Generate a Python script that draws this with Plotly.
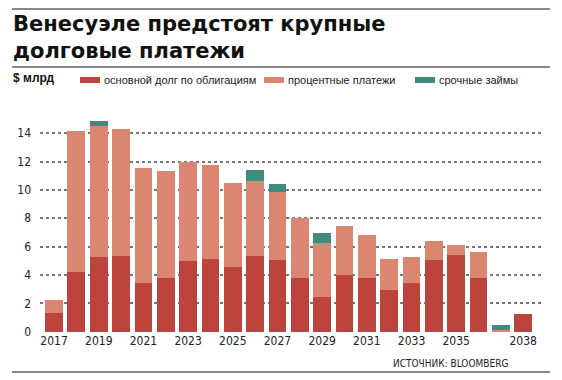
import plotly.graph_objects as go

years = list(range(2017, 2039))
principal = [1.30, 4.19, 5.24, 5.36, 3.45, 3.81, 4.96, 5.14, 4.58, 5.31, 5.05,
             3.76, 2.42, 3.97, 3.81, 2.96, 3.45, 5.05, 5.40, 3.81, 0.00, 1.23]
interest = [0.93, 9.93, 9.28, 8.92, 8.09, 7.54, 6.98, 6.59, 5.92, 5.29, 4.82,
            4.27, 3.85, 3.46, 3.00, 2.16, 1.79, 1.36, 0.73, 1.81, 0.15, 0.00]
loans = [0.00, 0.00, 0.35, 0.00, 0.00, 0.00, 0.00, 0.00, 0.00, 0.80, 0.54,
         0.00, 0.69, 0.00, 0.00, 0.00, 0.00, 0.00, 0.00, 0.00, 0.30, 0.00]
series_names = ["основной долг по облигациям", "процентные платежи", "срочные займы"]
colors = ["#BC443C", "#DB8670", "#428A7E"]
x_tickvals = [2017, 2019, 2021, 2023, 2025, 2027, 2029, 2031, 2033, 2035, 2038]
y_tickvals = [0, 2, 4, 6, 8, 10, 12, 14]

# page body has an 8px default margin; figure is sized to fit the window
OFF = 8
W, H = 562 - OFF, 380 - OFF
def px(x):
    return (x - OFF) / W
def py(y):
    return 1 - (y - OFF) / H

fig = go.Figure()
for vals, name, c in zip([principal, interest, loans], series_names, colors):
    fig.add_trace(go.Bar(x=years, y=vals, name=name, marker_color=c,
                         marker_line_width=0, showlegend=False))

narrow = "Liberation Sans Narrow, DejaVu Sans Condensed, Arial Narrow, sans-serif"

fig.update_layout(
    width=W, height=H, barmode="stack", bargap=0.2,
    margin=dict(l=0, r=0, t=0, b=0),
    plot_bgcolor="white", paper_bgcolor="white",
    xaxis=dict(domain=[px(40), px(542)], range=[2016.37, 2038.84],
               tickvals=x_tickvals, ticktext=[str(v) for v in x_tickvals],
               showgrid=False, zeroline=False, showline=False, automargin=False,
               tickfont=dict(family=narrow, size=12, color="#222")),
    yaxis=dict(domain=[py(332), py(119)], range=[-0.02, 15],
               tickvals=y_tickvals, showgrid=True, gridcolor="#777",
               griddash="dot", gridwidth=1.5, zeroline=False, showline=False,
               automargin=False, ticklabelstandoff=8,
               tickfont=dict(family=narrow, size=12, color="#222")),
)

shapes = []
for y in [9, 67, 372]:
    shapes.append(dict(type="line", xref="paper", yref="paper",
                       x0=px(12), x1=px(550), y0=py(y), y1=py(y),
                       line=dict(color="#888", width=2)))
# legend swatches
sw = [(80, 100), (264, 284), (415, 435)]
for (a, b), c in zip(sw, colors):
    shapes.append(dict(type="rect", xref="paper", yref="paper",
                       x0=px(a), x1=px(b), y0=py(83), y1=py(77),
                       fillcolor=c, line=dict(width=0)))
fig.update_layout(shapes=shapes)

ann = []
title_font = dict(family="DejaVu Sans", size=21, color="#111", weight="bold")
ann.append(dict(text="Венесуэле предстоят крупные", x=px(11), y=py(24),
                xanchor="left", yanchor="middle"))
ann.append(dict(text="долговые платежи", x=px(11), y=py(51),
                xanchor="left", yanchor="middle"))
for a in ann:
    a.update(xref="paper", yref="paper", showarrow=False, font=title_font)
ann.append(dict(text="$ млрд", x=px(11), y=py(78), xref="paper", yref="paper",
                xanchor="left", yanchor="middle", showarrow=False,
                font=dict(family="Liberation Sans", size=12, color="#111", weight="bold")))
for (a, b), name in zip(sw, series_names):
    ann.append(dict(text=name, x=px(b + 2), y=py(80), xref="paper", yref="paper",
                    xanchor="left", yanchor="middle", showarrow=False,
                    font=dict(family="Liberation Sans", size=11, color="#222")))
ann.append(dict(text="ИСТОЧНИК: BLOOMBERG", x=px(510), y=py(363), xref="paper",
                yref="paper", xanchor="right", yanchor="middle", showarrow=False,
                font=dict(family=narrow, size=10, color="#222")))
fig.update_layout(annotations=ann)

fig.write_html("out.html")
